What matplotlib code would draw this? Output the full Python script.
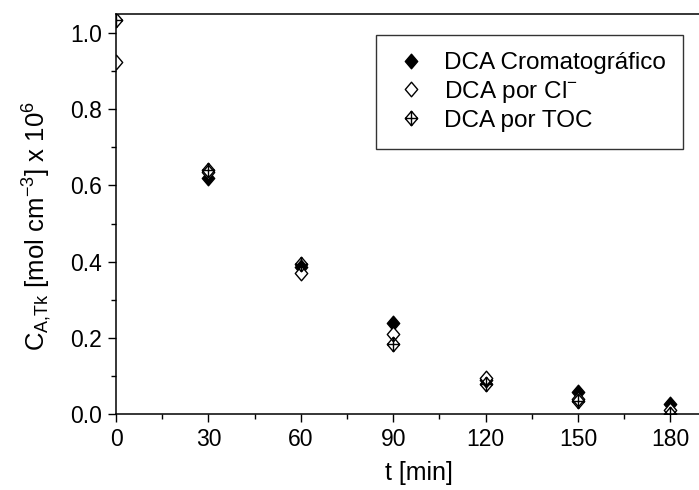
import matplotlib
matplotlib.use("Agg")
import matplotlib.pyplot as plt
from matplotlib.path import Path
from matplotlib.ticker import MultipleLocator

plt.rcParams['font.family'] = ['Liberation Sans', 'DejaVu Sans']
plt.rcParams['mathtext.fontset'] = 'custom'
plt.rcParams['mathtext.rm'] = 'Liberation Sans'
plt.rcParams['mathtext.it'] = 'Liberation Sans'

# Sampling times [min] and concentrations (x 10^6 mol cm^-3)
t_crom = [30, 60, 90, 120, 150, 180]
c_crom = [0.62, 0.385, 0.24, 0.09, 0.058, 0.027]

t_cl = [0, 30, 60, 90, 120, 150, 180]
c_cl = [0.925, 0.635, 0.37, 0.21, 0.095, 0.04, 0.01]

t_toc = [0, 30, 60, 90, 120, 150, 180]
c_toc = [1.035, 0.64, 0.395, 0.185, 0.08, 0.035, 0.0]

labels = ['DCA Cromatográfico', 'DCA por Cl$^{-}$', 'DCA por TOC']

# Slightly tall diamond, and the same diamond with an inscribed cross
w = 0.85
diamond = Path([(0, 1), (w, 0), (0, -1), (-w, 0), (0, 1)],
               [Path.MOVETO, Path.LINETO, Path.LINETO, Path.LINETO, Path.CLOSEPOLY])
diamond_cross = Path(
    [(0, 1), (w, 0), (0, -1), (-w, 0), (0, 1), (0, 1), (0, -1), (-w, 0), (w, 0)],
    [Path.MOVETO, Path.LINETO, Path.LINETO, Path.LINETO, Path.CLOSEPOLY,
     Path.MOVETO, Path.LINETO, Path.MOVETO, Path.LINETO])

x_max = 197
px_per_min = 3.08
ax_w = x_max * px_per_min
fig = plt.figure(figsize=(6.99, 4.90), dpi=100)
ax = fig.add_axes([116 / 699, 76 / 490, ax_w / 699, 400 / 490])

ms = 10.5
ax.plot(t_crom, c_crom, linestyle='none', marker=diamond, markersize=ms,
        markerfacecolor='black', markeredgecolor='black', label=labels[0])
ax.plot(t_cl, c_cl, linestyle='none', marker=diamond, markersize=ms,
        markerfacecolor='white', markeredgecolor='black', markeredgewidth=1.0,
        label=labels[1])
ax.plot(t_toc, c_toc, linestyle='none', marker=diamond_cross, markersize=ms,
        markerfacecolor='none', markeredgecolor='black', markeredgewidth=1.0,
        label=labels[2])

ax.set_xlim(0, x_max)
ax.set_ylim(0, 1.05)
ax.xaxis.set_major_locator(MultipleLocator(30))
ax.xaxis.set_minor_locator(MultipleLocator(15))
ax.yaxis.set_major_locator(MultipleLocator(0.2))
ax.yaxis.set_minor_locator(MultipleLocator(0.1))
ax.yaxis.set_major_formatter(plt.FormatStrFormatter('%.1f'))

ax.tick_params(which='major', direction='out', length=6, width=1.0,
               labelsize=16.5, top=False, right=False, pad=4)
ax.tick_params(which='minor', direction='out', length=3.5, width=1.0,
               top=False, right=False)
for sp in ax.spines.values():
    sp.set_linewidth(1.1)

ax.set_xlabel('t [min]', fontsize=18, labelpad=7)
ax.set_ylabel('C$_{\\mathregular{A{,}Tk}}$ [mol cm$^{\\mathregular{-3}}$] x 10$^{\\mathregular{6}}$',
              fontsize=18.5)
ax.yaxis.set_label_coords(-62 / ax_w, 0.47)

leg = ax.legend(loc='upper right',
                bbox_to_anchor=((683 - 116) / ax_w, (414 - 35) / 400),
                borderaxespad=0, fontsize=17.5, frameon=True, fancybox=False,
                edgecolor='black', borderpad=0.7, labelspacing=0.2,
                handletextpad=0.6, handlelength=1.5)
leg.get_frame().set_linewidth(1.0)

fig.savefig('out.png', dpi=100)
